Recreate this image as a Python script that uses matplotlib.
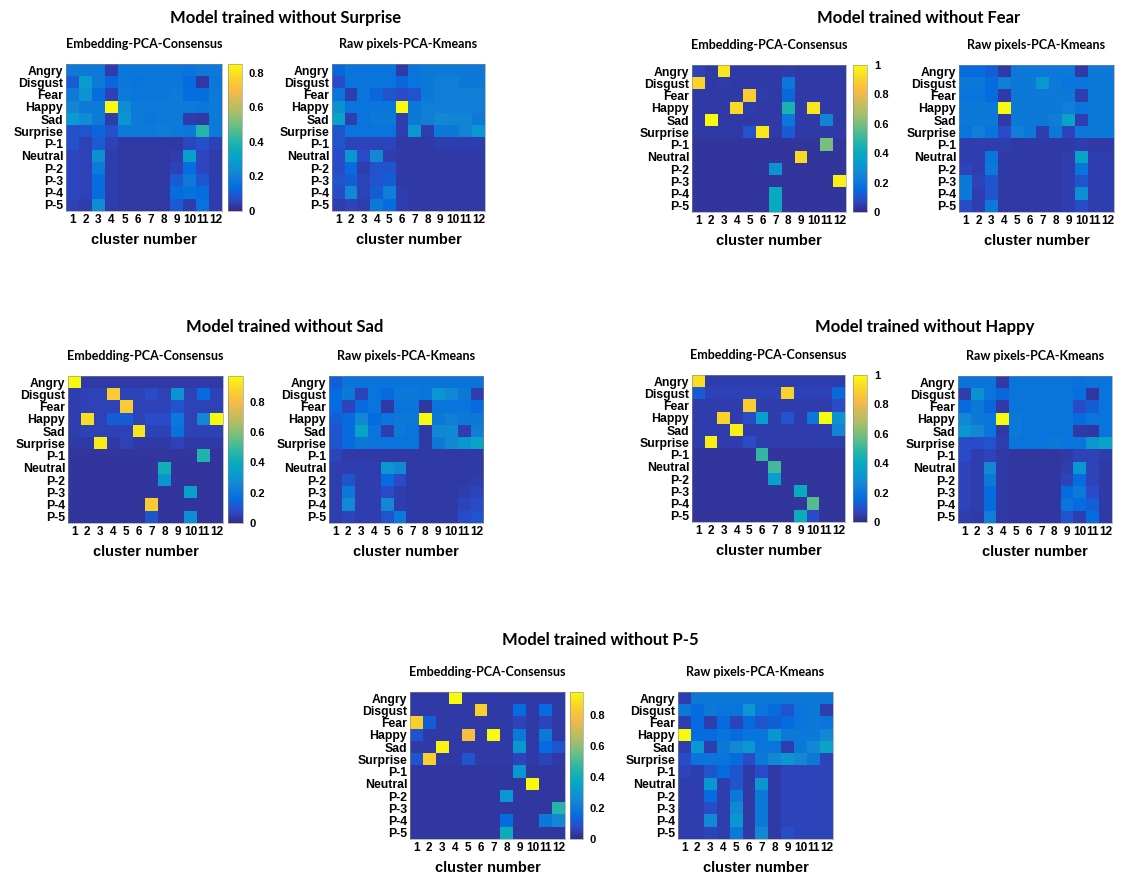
import numpy as np
import matplotlib
matplotlib.use("Agg")
import matplotlib.pyplot as plt
from matplotlib.colors import LinearSegmentedColormap

plt.rcParams['font.family'] = ['Liberation Sans', 'DejaVu Sans']
plt.rcParams['font.weight'] = 'bold'
plt.rcParams['axes.labelweight'] = 'bold'

classes = ['Angry', 'Disgust', 'Fear', 'Happy', 'Sad', 'Surprise',
           'P-1', 'Neutral', 'P-2', 'P-3', 'P-4', 'P-5']
clusters = [str(i) for i in range(1, 13)]

# fraction of each class falling in each cluster (rows = classes), in percent
surprise_emb = np.array([
    [18, 18, 18, 4, 17, 17, 17, 17, 17, 16, 18, 18],
    [10, 28, 18, 12, 17, 16, 17, 17, 17, 13, 3, 17],
    [18, 26, 14, 5, 18, 17, 17, 17, 18, 14, 14, 18],
    [22, 18, 18, 85, 24, 18, 18, 18, 18, 18, 17, 18],
    [28, 24, 18, 4, 26, 18, 17, 18, 18, 4, 3, 18],
    [8, 9, 12, 8, 18, 18, 18, 19, 18, 17, 40, 18],
    [8, 5, 10, 5, 3, 3, 3, 3, 3, 6, 8, 5],
    [6, 5, 25, 4, 3, 3, 3, 3, 4, 30, 6, 4],
    [6, 5, 18, 4, 3, 3, 3, 3, 5, 14, 6, 4],
    [6, 5, 14, 4, 3, 3, 3, 3, 10, 18, 9, 4],
    [6, 5, 14, 4, 3, 3, 3, 3, 14, 15, 14, 4],
    [5, 4, 24, 4, 3, 3, 3, 3, 10, 4, 15, 4]]) / 100

surprise_raw = np.array([
    [14, 18, 18, 18, 18, 4, 18, 20, 20, 20, 20, 20],
    [8, 18, 18, 18, 18, 14, 18, 20, 22, 22, 20, 20],
    [18, 5, 18, 14, 10, 8, 10, 20, 22, 22, 22, 22],
    [28, 18, 18, 18, 18, 95, 20, 22, 22, 22, 22, 22],
    [34, 5, 18, 20, 20, 5, 20, 22, 25, 24, 24, 20],
    [10, 18, 18, 18, 18, 5, 30, 5, 20, 20, 24, 30],
    [10, 6, 6, 6, 6, 4, 4, 4, 5, 5, 5, 5],
    [8, 30, 8, 25, 5, 4, 4, 4, 4, 4, 4, 4],
    [8, 15, 5, 10, 10, 4, 4, 4, 4, 4, 4, 4],
    [10, 12, 6, 10, 12, 4, 4, 4, 4, 4, 4, 4],
    [8, 25, 6, 12, 22, 5, 4, 4, 4, 4, 4, 4],
    [5, 6, 5, 20, 15, 5, 4, 4, 4, 4, 4, 4]]) / 100

fear_emb = np.array([
    [6, 4, 95, 4, 4, 4, 4, 5, 4, 4, 4, 4],
    [90, 4, 5, 4, 4, 4, 4, 20, 4, 4, 4, 4],
    [4, 4, 4, 4, 88, 5, 4, 15, 4, 4, 4, 4],
    [4, 4, 4, 92, 5, 4, 4, 45, 4, 95, 4, 4],
    [4, 100, 4, 4, 4, 4, 4, 20, 4, 4, 25, 4],
    [4, 4, 4, 4, 10, 95, 4, 12, 4, 4, 4, 4],
    [3, 3, 3, 3, 3, 3, 3, 3, 3, 3, 60, 3],
    [3, 3, 3, 3, 3, 3, 3, 3, 92, 3, 3, 3],
    [3, 3, 3, 3, 3, 3, 30, 3, 3, 3, 3, 3],
    [3, 3, 3, 3, 3, 3, 3, 3, 3, 3, 3, 97],
    [3, 3, 3, 3, 3, 3, 40, 3, 3, 3, 3, 3],
    [3, 3, 3, 3, 3, 3, 40, 3, 3, 3, 3, 3]]) / 100

fear_raw = np.array([
    [15, 15, 12, 4, 20, 20, 20, 20, 20, 4, 20, 20],
    [20, 20, 15, 22, 20, 20, 30, 20, 18, 18, 20, 20],
    [18, 18, 15, 4, 20, 20, 20, 20, 20, 5, 20, 20],
    [20, 20, 20, 95, 20, 20, 20, 20, 22, 18, 20, 20],
    [20, 20, 20, 4, 20, 20, 20, 22, 35, 5, 20, 20],
    [18, 22, 18, 8, 22, 20, 5, 20, 6, 20, 20, 20],
    [5, 5, 5, 5, 4, 4, 4, 4, 4, 5, 4, 4],
    [5, 5, 18, 4, 4, 4, 4, 4, 5, 35, 5, 5],
    [6, 5, 20, 4, 4, 4, 4, 4, 5, 18, 5, 5],
    [20, 6, 10, 4, 4, 4, 4, 4, 5, 10, 5, 5],
    [20, 5, 10, 4, 4, 4, 4, 4, 5, 28, 5, 5],
    [8, 5, 20, 4, 4, 4, 4, 4, 5, 8, 5, 5]]) / 100

sad_emb = np.array([
    [97, 4, 4, 4, 4, 4, 4, 4, 4, 4, 4, 4],
    [5, 6, 6, 85, 6, 6, 8, 6, 30, 6, 15, 6],
    [5, 6, 6, 6, 85, 6, 6, 6, 10, 6, 6, 6],
    [5, 90, 6, 12, 12, 6, 8, 8, 20, 6, 25, 97],
    [5, 6, 6, 6, 6, 92, 6, 6, 18, 6, 6, 6],
    [4, 4, 93, 4, 6, 4, 4, 4, 6, 4, 4, 4],
    [3, 3, 3, 3, 3, 3, 3, 3, 3, 3, 45, 3],
    [3, 3, 3, 3, 3, 3, 3, 42, 3, 3, 3, 3],
    [3, 3, 3, 3, 3, 3, 3, 30, 3, 3, 3, 3],
    [3, 3, 3, 3, 3, 3, 3, 3, 3, 35, 3, 3],
    [3, 3, 3, 3, 3, 3, 85, 3, 3, 3, 3, 3],
    [3, 3, 3, 3, 3, 3, 10, 3, 3, 28, 3, 3]]) / 100

sad_raw = np.array([
    [12, 18, 18, 18, 18, 18, 18, 18, 18, 18, 18, 18],
    [15, 20, 6, 18, 15, 20, 20, 18, 30, 25, 20, 5],
    [15, 6, 15, 18, 4, 18, 18, 3, 18, 18, 18, 15],
    [12, 15, 25, 15, 18, 20, 20, 95, 20, 22, 20, 20],
    [10, 15, 35, 18, 5, 20, 18, 4, 25, 25, 5, 22],
    [10, 15, 20, 18, 18, 18, 18, 4, 20, 25, 30, 35],
    [6, 4, 4, 4, 4, 4, 4, 4, 4, 4, 4, 4],
    [5, 5, 5, 5, 30, 25, 4, 4, 4, 4, 4, 4],
    [5, 10, 5, 5, 15, 8, 4, 4, 4, 4, 4, 5],
    [5, 20, 5, 5, 8, 5, 4, 4, 4, 4, 5, 6],
    [5, 25, 5, 5, 25, 5, 4, 4, 4, 4, 6, 8],
    [5, 6, 5, 5, 10, 20, 4, 4, 4, 4, 8, 10]]) / 100

happy_emb = np.array([
    [93, 5, 5, 5, 5, 5, 5, 5, 5, 5, 5, 5],
    [12, 6, 6, 6, 6, 6, 6, 90, 6, 6, 6, 15],
    [5, 5, 5, 5, 88, 5, 5, 5, 5, 5, 5, 8],
    [5, 5, 90, 5, 8, 35, 5, 10, 5, 20, 100, 30],
    [5, 5, 5, 97, 5, 5, 5, 5, 5, 5, 5, 25],
    [5, 97, 5, 5, 8, 5, 5, 5, 5, 5, 5, 5],
    [3, 3, 3, 3, 3, 50, 3, 3, 3, 3, 3, 3],
    [3, 3, 3, 3, 3, 3, 52, 3, 3, 3, 3, 3],
    [3, 3, 3, 3, 3, 3, 35, 3, 3, 3, 3, 3],
    [3, 3, 3, 3, 3, 3, 3, 3, 40, 3, 3, 3],
    [3, 3, 3, 3, 3, 3, 3, 3, 3, 55, 3, 3],
    [3, 3, 3, 3, 3, 3, 3, 3, 42, 8, 3, 3]]) / 100

happy_raw = np.array([
    [18, 18, 18, 4, 18, 18, 18, 18, 18, 17, 18, 18],
    [5, 28, 18, 14, 18, 18, 18, 18, 18, 16, 3, 18],
    [15, 20, 14, 4, 18, 18, 18, 18, 18, 8, 12, 18],
    [25, 20, 18, 95, 20, 18, 18, 18, 18, 15, 18, 18],
    [30, 25, 18, 4, 20, 18, 18, 18, 18, 4, 3, 18],
    [8, 8, 10, 5, 18, 18, 18, 20, 18, 18, 30, 35],
    [8, 5, 6, 4, 3, 3, 3, 3, 4, 6, 6, 5],
    [6, 5, 25, 4, 3, 3, 3, 3, 5, 30, 6, 4],
    [6, 5, 20, 4, 3, 3, 3, 3, 6, 15, 6, 4],
    [6, 5, 15, 4, 3, 3, 3, 3, 15, 20, 8, 4],
    [6, 5, 15, 4, 3, 3, 3, 3, 18, 15, 12, 4],
    [5, 4, 22, 4, 3, 3, 3, 3, 10, 5, 15, 4]]) / 100

p5_emb = np.array([
    [4, 4, 4, 95, 4, 4, 4, 4, 4, 4, 4, 4],
    [4, 4, 4, 4, 4, 85, 4, 4, 15, 4, 15, 4],
    [85, 12, 4, 4, 4, 4, 4, 4, 6, 4, 6, 4],
    [10, 4, 4, 4, 80, 4, 95, 4, 20, 4, 20, 4],
    [4, 4, 93, 4, 4, 4, 4, 4, 30, 4, 15, 10],
    [10, 85, 4, 4, 10, 4, 4, 4, 6, 4, 6, 4],
    [3, 3, 3, 3, 3, 3, 3, 3, 30, 3, 3, 3],
    [3, 3, 3, 3, 3, 3, 3, 3, 3, 95, 3, 3],
    [3, 3, 3, 3, 3, 3, 3, 30, 3, 3, 3, 3],
    [3, 3, 3, 3, 3, 3, 3, 3, 3, 3, 3, 45],
    [3, 3, 3, 3, 3, 3, 3, 15, 3, 3, 20, 25],
    [3, 3, 3, 3, 3, 3, 3, 40, 3, 3, 3, 3]]) / 100

p5_raw = np.array([
    [5, 20, 20, 20, 20, 20, 20, 20, 20, 20, 20, 20],
    [20, 15, 20, 18, 18, 30, 18, 15, 10, 18, 20, 5],
    [5, 15, 5, 15, 6, 15, 10, 12, 15, 18, 20, 18],
    [95, 15, 15, 18, 15, 18, 18, 30, 20, 20, 20, 25],
    [5, 30, 5, 20, 25, 30, 18, 18, 5, 20, 25, 35],
    [8, 18, 18, 18, 15, 8, 20, 25, 30, 25, 20, 6],
    [6, 5, 10, 15, 10, 4, 8, 4, 6, 6, 6, 6],
    [5, 5, 30, 5, 10, 4, 30, 4, 6, 6, 6, 6],
    [5, 5, 15, 5, 20, 4, 20, 4, 6, 6, 6, 6],
    [5, 5, 8, 5, 25, 4, 20, 4, 6, 6, 6, 6],
    [5, 5, 25, 5, 30, 4, 20, 4, 6, 6, 6, 6],
    [5, 5, 6, 5, 20, 4, 25, 4, 8, 6, 6, 6]]) / 100

# parula-like colormap
parula = LinearSegmentedColormap.from_list('parula', [
    (0 / 63, (0.2081, 0.1663, 0.5292)),
    (5 / 63, (0.1707, 0.2919, 0.7792)),
    (10 / 63, (0.0165, 0.4266, 0.8786)),
    (16 / 63, (0.0793, 0.5200, 0.8312)),
    (21 / 63, (0.0265, 0.6137, 0.8135)),
    (26 / 63, (0.0384, 0.6743, 0.7436)),
    (31 / 63, (0.1801, 0.7177, 0.6424)),
    (36 / 63, (0.3953, 0.7459, 0.5244)),
    (42 / 63, (0.6473, 0.7456, 0.4188)),
    (47 / 63, (0.8185, 0.7327, 0.3498)),
    (52 / 63, (0.9739, 0.7314, 0.2666)),
    (57 / 63, (0.9789, 0.8271, 0.1633)),
    (63 / 63, (0.9763, 0.9831, 0.0538))])

W, H = 1124, 877
fig = plt.figure(figsize=(W / 100, H / 100), dpi=100)


def rect(x0, y0, x1, y1):
    return [x0 / W, 1 - y1 / H, (x1 - x0) / W, (y1 - y0) / H]


def heat(box, data, subtitle, cbox=None):
    ax = fig.add_axes(rect(*box))
    vmax = data.max()
    im = ax.imshow(data, cmap=parula, vmin=0, vmax=vmax, aspect='auto',
                   interpolation='nearest')
    ax.set_xticks(range(12))
    ax.set_xticklabels(clusters, fontsize=8.5)
    ax.set_yticks(range(12))
    ax.set_yticklabels(classes, fontsize=8.8)
    ax.tick_params(length=0, pad=2)
    ax.set_xlabel('cluster number', fontsize=10.5, labelpad=5)
    for s in ax.spines.values():
        s.set_linewidth(0.4)
        s.set_color('#888888')
    cx = (box[0] + box[2]) / 2
    fig.text(cx / W, 1 - (box[1] - 20) / H, subtitle, ha='center', va='center',
             fontsize=9, family=['Lato', 'DejaVu Sans'], weight='bold')
    if cbox is not None:
        cax = fig.add_axes(rect(*cbox))
        cb = fig.colorbar(im, cax=cax)
        ticks = np.arange(0, vmax + 1e-6, 0.2)
        cb.set_ticks(ticks)
        cb.set_ticklabels(['%g' % round(t, 1) for t in ticks])
        cb.ax.tick_params(labelsize=8, length=0, pad=5)
        cb.outline.set_linewidth(0.4)
        cb.outline.set_edgecolor('#888888')
    return ax


def title(x, y, s):
    fig.text(x / W, 1 - y / H, s, ha='center', va='center', fontsize=12,
             family=['Lato', 'DejaVu Sans'], weight='bold')


title(286, 18, 'Model trained without Surprise')
heat((66, 64, 222, 211), surprise_emb, 'Embedding-PCA-Consensus', (228, 64, 242, 211))
heat((332, 64, 485, 211), surprise_raw, 'Raw pixels-PCA-Kmeans')

title(919, 18, 'Model trained without Fear')
heat((692, 65, 846, 212), fear_emb, 'Embedding-PCA-Consensus', (853, 65, 867, 212))
heat((959, 65, 1114, 212), fear_raw, 'Raw pixels-PCA-Kmeans')

title(285, 327, 'Model trained without Sad')
heat((68, 376, 223, 523), sad_emb, 'Embedding-PCA-Consensus', (228, 376, 243, 523))
heat((329, 376, 483, 523), sad_raw, 'Raw pixels-PCA-Kmeans')

title(925, 327, 'Model trained without Happy')
heat((692, 375, 845, 522), happy_emb, 'Embedding-PCA-Consensus', (853, 375, 867, 522))
heat((958, 376, 1112, 523), happy_raw, 'Raw pixels-PCA-Kmeans')

title(600, 640, 'Model trained without P-5')
heat((410, 692, 565, 839), p5_emb, 'Embedding-PCA-Consensus', (570, 692, 583, 839))
heat((678, 692, 833, 839), p5_raw, 'Raw pixels-PCA-Kmeans')

fig.savefig('out.png', dpi=100)
